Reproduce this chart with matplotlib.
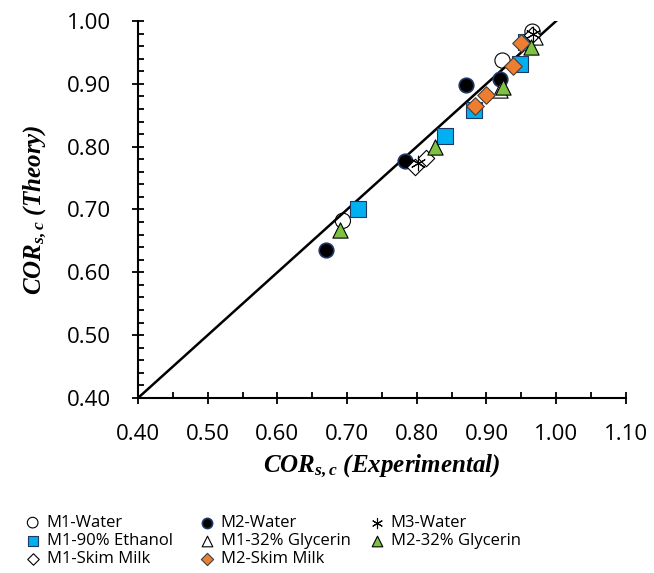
import matplotlib
matplotlib.use('Agg')
import matplotlib.pyplot as plt
from matplotlib.ticker import MultipleLocator, FormatStrFormatter

plt.rcParams['font.family'] = ['Open Sans', 'DejaVu Sans']
plt.rcParams['mathtext.fontset'] = 'custom'
plt.rcParams['mathtext.it'] = 'Liberation Serif:italic:bold'
plt.rcParams['mathtext.rm'] = 'Liberation Serif:italic:bold'
plt.rcParams['mathtext.bf'] = 'Liberation Serif:italic:bold'

# experimental vs theory, one list pair per series
m1_water_x = [0.694, 0.923, 0.966]
m1_water_y = [0.682, 0.937, 0.983]
m2_water_x = [0.670, 0.783, 0.870, 0.919]
m2_water_y = [0.635, 0.777, 0.898, 0.907]
m3_water_x = [0.802, 0.967]
m3_water_y = [0.774, 0.980]
m1_eth_x = [0.716, 0.840, 0.882, 0.948, 0.957]
m1_eth_y = [0.701, 0.817, 0.859, 0.931, 0.967]
m1_gly_x = [0.920, 0.970]
m1_gly_y = [0.890, 0.975]
m2_gly_x = [0.690, 0.826, 0.924, 0.964]
m2_gly_y = [0.667, 0.800, 0.895, 0.959]
m1_milk_x = [0.798, 0.813, 0.965]
m1_milk_y = [0.768, 0.782, 0.978]
m2_milk_x = [0.884, 0.900, 0.938, 0.950]
m2_milk_y = [0.865, 0.882, 0.928, 0.965]

fig = plt.figure(figsize=(6.54, 5.73), dpi=100)
ax = fig.add_axes([0.211, 0.3054, 0.746, 0.658])

ax.plot([0.4, 1.0], [0.4, 1.0], color='black', lw=1.8, zorder=1)

h = {}
h['M1-90% Ethanol'] = ax.scatter(m1_eth_x, m1_eth_y, marker='s', s=120, c='#00B0F0', edgecolors='#1F3864', linewidths=0.8, zorder=3)
h['M2-Water'] = ax.scatter(m2_water_x, m2_water_y, marker='o', s=110, c='black', edgecolors='#1F3864', linewidths=1.2, zorder=3)
h['M1-32% Glycerin'] = ax.scatter(m1_gly_x, m1_gly_y, marker='^', s=120, c='white', edgecolors='black', linewidths=0.8, zorder=3)
h['M2-32% Glycerin'] = ax.scatter(m2_gly_x, m2_gly_y, marker='^', s=120, c='#7DC242', edgecolors='black', linewidths=0.8, zorder=4)
h['M1-Water'] = ax.scatter(m1_water_x, m1_water_y, marker='o', s=120, c='none', edgecolors='black', linewidths=0.8, zorder=2)
h['M3-Water'] = ax.scatter(m3_water_x, m3_water_y, marker=(6, 2, 0), s=110, c='black', linewidths=0.8, zorder=4)
h['M1-Skim Milk'] = ax.scatter(m1_milk_x, m1_milk_y, marker='D', s=70, c='white', edgecolors='black', linewidths=0.8, zorder=3)
h['M2-Skim Milk'] = ax.scatter(m2_milk_x, m2_milk_y, marker='D', s=80, c='#ED7D31', edgecolors='#404040', linewidths=0.8, zorder=5)

ax.set_xlim(0.4, 1.1)
ax.set_ylim(0.4, 1.0)
ax.xaxis.set_major_locator(MultipleLocator(0.1))
ax.xaxis.set_minor_locator(MultipleLocator(0.05))
ax.yaxis.set_major_locator(MultipleLocator(0.1))
ax.yaxis.set_minor_locator(MultipleLocator(0.02))
ax.xaxis.set_major_formatter(FormatStrFormatter('%.2f'))
ax.yaxis.set_major_formatter(FormatStrFormatter('%.2f'))
ax.tick_params(which='major', direction='inout', length=9, width=1.3, labelsize=16, colors='black')
ax.tick_params(which='minor', direction='in', length=4, width=1.3)
ax.tick_params(axis='x', which='major', pad=14)
ax.tick_params(axis='y', which='major', pad=15)
for side in ['top', 'right']:
    ax.spines[side].set_visible(False)
for side in ['left', 'bottom']:
    ax.spines[side].set_linewidth(1.5)

lab_font = dict(family='Liberation Serif', style='italic', weight='bold', size=18)
ax.set_xlabel(r'$COR_{s,c}$ (Experimental)', fontdict=lab_font, labelpad=6)
ax.set_ylabel(r'$COR_{s,c}$ (Theory)', fontdict=lab_font, labelpad=13)

# three single-column legends so the columns sit where the reference has them
cols = [['M1-Water', 'M1-90% Ethanol', 'M1-Skim Milk'],
        ['M2-Water', 'M1-32% Glycerin', 'M2-Skim Milk'],
        ['M3-Water', 'M2-32% Glycerin']]
col_x = [26, 200, 370]
for names, x0 in zip(cols, col_x):
    lg = fig.legend([h[k] for k in names], names, loc='upper left',
                    bbox_to_anchor=(x0 / 654, 1 - 515 / 573), frameon=False,
                    fontsize=12, markerscale=0.7, handlelength=0.8,
                    handletextpad=0.45, labelspacing=0.12,
                    borderpad=0, borderaxespad=0)

fig.savefig('out.png', dpi=100)
